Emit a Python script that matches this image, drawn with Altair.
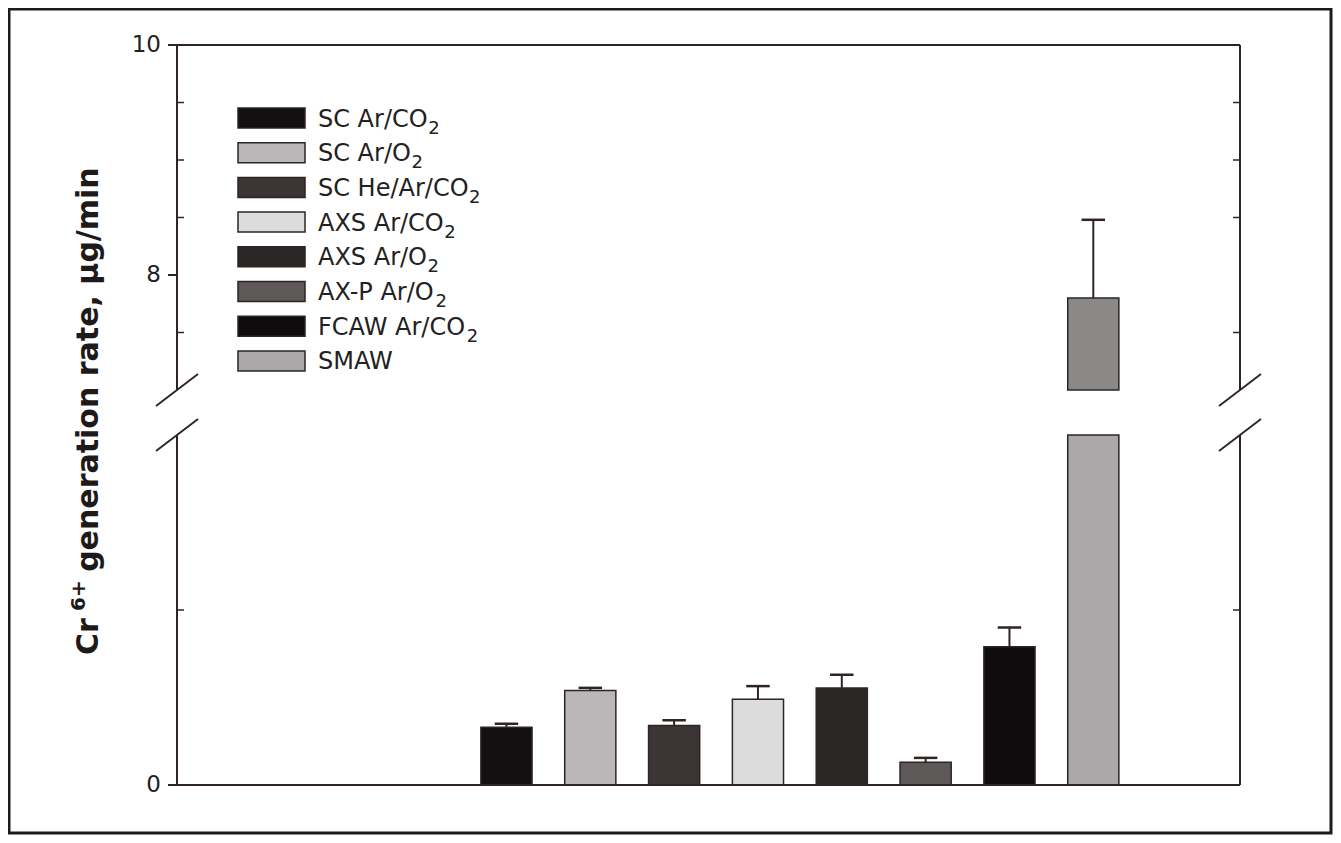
import altair as alt
import pandas as pd

# ---------------- values ----------------
categories = ["SC Ar/CO\u2082", "SC Ar/O\u2082", "SC He/Ar/CO\u2082", "AXS Ar/CO\u2082",
              "AXS Ar/O\u2082", "AX-P Ar/O\u2082", "FCAW Ar/CO\u2082", "SMAW"]
means = [0.33, 0.54, 0.34, 0.49, 0.555, 0.13, 0.79, 7.80]
errors = [0.02, 0.015, 0.03, 0.075, 0.075, 0.025, 0.11, 0.68]
fill_colors = ["#121010", "#b9b7b7", "#3b3535", "#dcdcdc",
               "#2b2626", "#5d5959", "#0e0c0c", "#aaa8a8"]
smaw_upper_color = "#8b8888"
tick_values = [0, 1, 7.5, 8, 8.5, 9, 9.5, 10]
major_ticks = [0, 8, 10]
title_parts = ["Cr", "6+", "generation rate, \u00b5g/min"]

# ---------------- broken-axis layout ----------------
W, H = 1063, 740
XMIN, XMAX = -2.93, 9.75
PXX = W / (XMAX - XMIN)
LOW_MAX, HIGH_MIN, HIGH_MAX = 2.0, 7.0, 10.0
LOW_PX, HIGH_PX = 175.0, 115.0
HIGH_BASE = H - (HIGH_MAX - HIGH_MIN) * HIGH_PX

FONT = "DejaVu Sans"
# DejaVu Sans advance widths (em fractions) for laying out sub/superscripts
W_REG = {"S": .635, "C": .698, " ": .318, "A": .684, "r": .411, "/": .337, "O": .787,
         "H": .752, "e": .615, "X": .685, "P": .603, "-": .361, "F": .575, "W": .989,
         "M": .863, "2": .636}
W_BOLD = {"C": .734, "r": .493, " ": .348, "6": .696, "+": .838}


def text_w(s, table, fs):
    return sum(table.get(ch, 0.6) for ch in s) * fs


def seg_expr(field):
    return (f"datum.{field} <= {LOW_MAX} + 1e-6 ? datum.{field} * {LOW_PX} : "
            f"{HIGH_BASE} + (datum.{field} - {HIGH_MIN}) * {HIGH_PX}")


def to_d(v):
    return v * LOW_PX if v <= LOW_MAX + 1e-6 else HIGH_BASE + (v - HIGH_MIN) * HIGH_PX


xscale = alt.Scale(domain=[XMIN, XMAX], nice=False, zero=False)
yscale = alt.Scale(domain=[0, H], nice=False, zero=False)
ckeys = categories + ["SMAW upper"]
cscale = alt.Scale(domain=ckeys, range=fill_colors + [smaw_upper_color])
INK = "#2e2424"

# bars (SMAW is split across the break)
rows = []
for i, (c, m) in enumerate(zip(categories, means)):
    if m > LOW_MAX:
        rows.append(dict(cat=c, key=c, pos=i + 1, lo=0.0, hi=LOW_MAX))
        rows.append(dict(cat=c, key="SMAW upper", pos=i + 1, lo=HIGH_MIN, hi=m))
    else:
        rows.append(dict(cat=c, key=c, pos=i + 1, lo=0.0, hi=m))
bars_df = pd.DataFrame(rows)

bars = alt.Chart(bars_df).transform_calculate(
    d0=seg_expr("lo"), d1=seg_expr("hi"),
    xa="datum.pos - 0.305", xb="datum.pos + 0.305"
).mark_rect(stroke=INK, strokeWidth=1.5).encode(
    x=alt.X("xa:Q", scale=xscale, axis=None), x2="xb:Q",
    y=alt.Y("d0:Q", scale=yscale, axis=None), y2="d1:Q",
    color=alt.Color("key:N", scale=cscale, legend=None),
)

err_df = pd.DataFrame({"cat": categories, "pos": list(range(1, 9)),
                       "m": means, "e": errors})
err_base = alt.Chart(err_df).transform_calculate(
    top="datum.m + datum.e"
).transform_calculate(
    d0=seg_expr("m"), d1=seg_expr("top"),
    xa="datum.pos - 0.14", xb="datum.pos + 0.14"
)
stems = err_base.mark_rule(color=INK, strokeWidth=2).encode(
    x=alt.X("pos:Q", scale=xscale), y=alt.Y("d0:Q", scale=yscale), y2="d1:Q")
caps = err_base.mark_rule(color=INK, strokeWidth=2.5).encode(
    x=alt.X("xa:Q", scale=xscale), x2="xb:Q", y=alt.Y("d1:Q", scale=yscale))

# axis lines (left/right broken, top/bottom full)
seg_df = pd.DataFrame({"s0": [0.0, HIGH_MIN], "s1": [LOW_MAX, HIGH_MAX]})
seg_base = alt.Chart(seg_df).transform_calculate(d0=seg_expr("s0"), d1=seg_expr("s1"))
left_line = seg_base.mark_rule(color=INK, strokeWidth=2).encode(
    x=alt.value(0), y=alt.Y("d0:Q", scale=yscale), y2="d1:Q")
right_line = seg_base.mark_rule(color=INK, strokeWidth=2).encode(
    x=alt.value(W), y=alt.Y("d0:Q", scale=yscale), y2="d1:Q")
one = pd.DataFrame({"a": [0]})
top_line = alt.Chart(one).mark_rule(color=INK, strokeWidth=2).encode(
    x=alt.value(0), x2=alt.value(W), y=alt.value(0))
bottom_line = alt.Chart(one).mark_rule(color=INK, strokeWidth=2).encode(
    x=alt.value(0), x2=alt.value(W), y=alt.value(H))

tick_df = pd.DataFrame({
    "v": tick_values,
    "major": [v in major_ticks for v in tick_values],
    "label": [("%g" % v) if v in major_ticks else "" for v in tick_values],
})
tick_base = alt.Chart(tick_df).transform_calculate(d=seg_expr("v"))
maj_ticks = tick_base.transform_filter("datum.major").mark_rule(
    color=INK, strokeWidth=2).encode(
    x=alt.value(-9), x2=alt.value(0), y=alt.Y("d:Q", scale=yscale))
min_ticks_l = tick_base.transform_filter("!datum.major").mark_rule(
    color=INK, strokeWidth=1.5).encode(
    x=alt.value(0), x2=alt.value(7), y=alt.Y("d:Q", scale=yscale))
min_ticks_r = tick_base.transform_filter("!datum.major").mark_rule(
    color=INK, strokeWidth=1.5).encode(
    x=alt.value(W - 7), x2=alt.value(W), y=alt.Y("d:Q", scale=yscale))
tick_text = tick_base.transform_filter("datum.major").mark_text(
    align="right", baseline="middle", fontSize=23, font=FONT,
    color="#222").encode(
    x=alt.value(-16), y=alt.Y("d:Q", scale=yscale), text="label:N")

# break slashes
sl = []
for xc in (XMIN, XMAX):
    for v in (LOW_MAX, HIGH_MIN):
        d = to_d(v)
        sl.append(dict(x1=xc - 21 / PXX, x2=xc + 21 / PXX, y1=d - 16, y2=d + 16))
slash_df = pd.DataFrame(sl)
slashes = alt.Chart(slash_df).mark_rule(color=INK, strokeWidth=2).encode(
    x=alt.X("x1:Q", scale=xscale), x2="x2:Q",
    y=alt.Y("y1:Q", scale=yscale), y2="y2:Q")

# legend (drawn in plot), subscripts placed after the base text
LEG_FS, SUB_FS = 24, 18
LEG_X0 = 141
leg_rows = []
for i, c in enumerate(categories):
    base, _, rest = c.partition("\u2082")
    sub = "2" if "\u2082" in c else ""
    ly = H - (73 + i * 34.7)
    leg_rows.append(dict(cat=c, base=base, sub=sub, ly=ly, ly0=ly - 10, ly1=ly + 10,
                         lb=ly - 8.5, sb=ly - 15.5,
                         sx=XMIN + (LEG_X0 + text_w(base, W_REG, LEG_FS) + 0.5) / PXX))
leg_df = pd.DataFrame(leg_rows)
leg_base = alt.Chart(leg_df)
swatch = leg_base.mark_rect(stroke=INK, strokeWidth=1.5).encode(
    x=alt.value(61), x2=alt.value(128),
    y=alt.Y("ly0:Q", scale=yscale), y2="ly1:Q",
    color=alt.Color("cat:N", scale=cscale, legend=None))
leg_text = leg_base.mark_text(align="left", baseline="alphabetic", fontSize=LEG_FS,
                              font=FONT, color="#222").encode(
    x=alt.value(LEG_X0), y=alt.Y("lb:Q", scale=yscale), text="base:N")
leg_sub = leg_base.transform_filter("datum.sub != ''").mark_text(
    align="left", baseline="alphabetic", fontSize=SUB_FS, font=FONT,
    color="#222").encode(
    x=alt.X("sx:Q", scale=xscale), y=alt.Y("sb:Q", scale=yscale), text="sub:N")

# rotated y title with superscript
T_FS, T_SUP = 30, 20
t_d0 = 130.0
t_d1 = t_d0 + text_w("Cr", W_BOLD, T_FS) + 0.7 * text_w(" ", W_BOLD, T_FS)
t_d2 = t_d1 + text_w("6+", W_BOLD, T_SUP) + 0.8 * text_w(" ", W_BOLD, T_FS)
title_df = pd.DataFrame({"t": title_parts, "d": [t_d0, t_d1, t_d2],
                         "sup": [False, True, False]})
title_main = alt.Chart(title_df).transform_filter("!datum.sup").mark_text(
    angle=270, fontSize=T_FS, fontWeight="bold", font=FONT,
    baseline="alphabetic", align="left", color="#1e1a1a").encode(
    x=alt.value(-79), y=alt.Y("d:Q", scale=yscale), text="t:N")
title_sup = alt.Chart(title_df).transform_filter("datum.sup").mark_text(
    angle=270, fontSize=T_SUP, fontWeight="bold", font=FONT,
    baseline="alphabetic", align="left", color="#1e1a1a").encode(
    x=alt.value(-92), y=alt.Y("d:Q", scale=yscale), text="t:N")

frame = alt.Chart(one).mark_rect(fillOpacity=0, stroke="#1e1a1a", strokeWidth=3).encode(
    x=alt.value(-168), x2=alt.value(1154), y=alt.value(-36), y2=alt.value(788))

chart = alt.layer(
    frame, bars, stems, caps, left_line, right_line, top_line, bottom_line,
    maj_ticks, min_ticks_l, min_ticks_r, tick_text, slashes,
    swatch, leg_text, leg_sub, title_main, title_sup
).properties(
    width=W, height=H,
    padding={"left": 169, "top": 37, "right": 93, "bottom": 50},
    autosize=alt.AutoSizeParams(type="none"),
).configure_view(stroke=None)

chart.save("out.html", embed_options={"renderer": "svg", "actions": False})
